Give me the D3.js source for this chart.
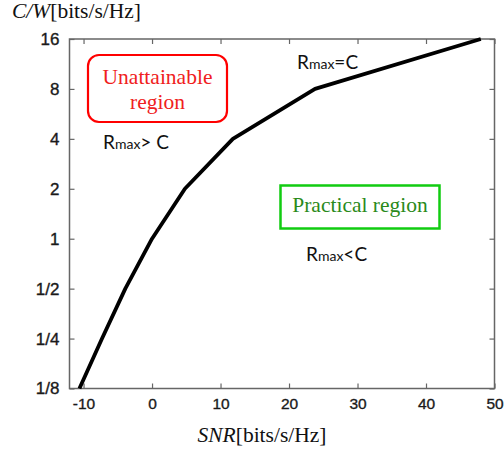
<!DOCTYPE html>
<html>
<head>
<meta charset="utf-8">
<script src="https://cdnjs.cloudflare.com/ajax/libs/d3/7.8.5/d3.min.js"></script>
<style>
  html, body { margin: 0; padding: 0; background: #fff; }
  svg { display: block; }
  .tick text { font-family: "Liberation Sans", Arial, sans-serif; fill: #1a1a1a; stroke: #1a1a1a; stroke-width: 0.35px; }
</style>
</head>
<body>
<svg id="chart" width="504" height="450"></svg>
<script>
// capacity curve
var snr = [-10.6, -7.3, -3.9, 0, 4.8, 11.8, 23.8, 48];
var capacity = [0.125, 0.25, 0.5, 1, 2, 4, 8, 16];

var xTicks = [-10, 0, 10, 20, 30, 40, 50];
var yTicks = [0.125, 0.25, 0.5, 1, 2, 4, 8, 16];
var yTickLabels = ["1/8", "1/4", "1/2", "1", "2", "4", "8", "16"];

var svg = d3.select("#chart");
var plotLeft = 69.5, plotRight = 494.5, plotTop = 39, plotBottom = 388.5;

var x = d3.scaleLinear().domain([-12.05, 50]).range([plotLeft, plotRight]);
var y = d3.scaleLog().base(2).domain([0.125, 16]).range([plotBottom, plotTop]);

var axisColor = "#666";

// frame
svg.append("rect")
  .attr("x", plotLeft).attr("y", plotTop)
  .attr("width", plotRight - plotLeft).attr("height", plotBottom - plotTop)
  .attr("fill", "none").attr("stroke", axisColor).attr("stroke-width", 1.5);

// inward ticks
function tickStyle(g) {
  g.select(".domain").remove();
  g.selectAll(".tick line").attr("stroke", axisColor).attr("stroke-width", 1.2);
}

svg.append("g").attr("transform", "translate(0," + plotBottom + ")")
  .call(d3.axisBottom(x).tickValues(xTicks).tickSize(-5).tickPadding(9)
    .tickFormat(function(d) { return String(d); }))
  .call(tickStyle)
  .selectAll("text").attr("font-size", 15.5).attr("dy", "0.72em");

svg.append("g").attr("transform", "translate(0," + plotTop + ")")
  .call(d3.axisTop(x).tickValues(xTicks).tickSize(-5).tickFormat(""))
  .call(tickStyle);

svg.append("g").attr("transform", "translate(" + plotLeft + ",0)")
  .call(d3.axisLeft(y).tickValues(yTicks).tickSize(-5).tickPadding(10)
    .tickFormat(function(d, i) { return yTickLabels[i]; }))
  .call(tickStyle)
  .selectAll("text").attr("font-size", 17);

svg.append("g").attr("transform", "translate(" + plotRight + ",0)")
  .call(d3.axisRight(y).tickValues(yTicks).tickSize(-5).tickFormat(""))
  .call(tickStyle);

// curve
var pts = snr.map(function(s, i) { return [s, capacity[i]]; });
svg.append("path")
  .datum(pts)
  .attr("fill", "none")
  .attr("stroke", "#000")
  .attr("stroke-width", 3.8)
  .attr("stroke-linejoin", "round")
  .attr("d", d3.line().x(function(d) { return x(d[0]); }).y(function(d) { return y(d[1]); }));

// axis titles
var serif = "'Liberation Serif', 'Times New Roman', serif";
var title = svg.append("text").attr("x", 12).attr("y", 18)
  .attr("font-family", serif).attr("font-size", 21.5).attr("fill", "#111");
title.append("tspan").attr("font-style", "italic").text("C/W");
title.append("tspan").text("[bits/s/Hz]");

var xlab = svg.append("text").attr("x", 262).attr("y", 442).attr("text-anchor", "middle")
  .attr("font-family", serif).attr("font-size", 21.5).attr("fill", "#111");
xlab.append("tspan").attr("font-style", "italic").text("SNR");
xlab.append("tspan").text("[bits/s/Hz]");

// region boxes
svg.append("rect").attr("x", 88).attr("y", 55).attr("width", 139).attr("height", 67)
  .attr("rx", 11).attr("fill", "#fff").attr("stroke", "#f00").attr("stroke-width", 2.2);
svg.append("text").attr("x", 157.5).attr("y", 84).attr("text-anchor", "middle")
  .attr("font-family", serif).attr("font-size", 21.5).attr("fill", "#f02020").text("Unattainable");
svg.append("text").attr("x", 157.5).attr("y", 109).attr("text-anchor", "middle")
  .attr("font-family", serif).attr("font-size", 21.5).attr("fill", "#f02020").text("region");

svg.append("rect").attr("x", 280.5).attr("y", 185.5).attr("width", 159).attr("height", 43)
  .attr("fill", "#fff").attr("stroke", "#11cc11").attr("stroke-width", 2.5);
svg.append("text").attr("x", 360).attr("y", 212).attr("text-anchor", "middle")
  .attr("font-family", serif).attr("font-size", 21.5).attr("fill", "#2a8a1a").text("Practical region");

// Rmax labels
function rmax(px, py, rest) {
  var t = svg.append("text").attr("x", px).attr("y", py)
    .attr("font-family", "Lato, 'Open Sans', sans-serif").attr("fill", "#111");
  t.append("tspan").attr("font-size", 19).text("R");
  t.append("tspan").attr("font-size", 14).text("max");
  t.append("tspan").attr("font-size", 19).text(rest);
}
rmax(103, 149, "> C");
rmax(297, 69, "=C");
rmax(306, 261, "<C");
</script>
</body>
</html>
